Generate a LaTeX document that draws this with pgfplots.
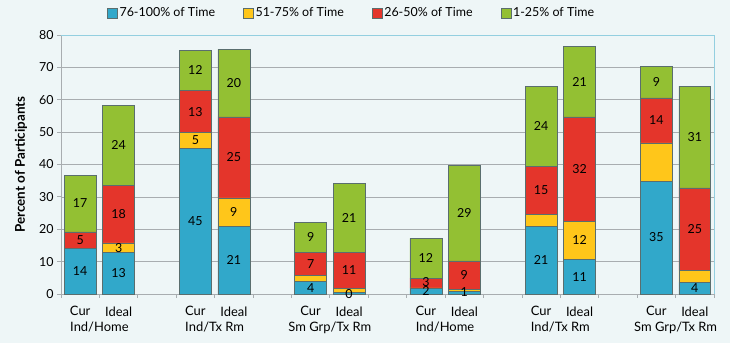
\documentclass[border=0pt]{standalone}
\usepackage{pgfplots}
\pgfplotsset{compat=1.18}
\usepackage{fontspec}
\setmainfont{Lato}
\definecolor{bgc}{HTML}{EEF6F7}
\definecolor{bF}{HTML}{31A8CA}
\definecolor{yF}{HTML}{FFC61A}
\definecolor{rF}{HTML}{E4352B}
\definecolor{gF}{HTML}{93C033}
\definecolor{edge}{HTML}{5A6E6E}
\definecolor{gridc}{HTML}{A8ADB0}
\definecolor{frame}{HTML}{93CFE0}
\begin{document}
\begin{tikzpicture}
\path[use as bounding box, fill=bgc] (0,0) rectangle (730bp,343bp);
\pgfplotsset{geom/.style={
  scale only axis, width=653bp, height=259bp,
  at={(61bp,49bp)}, anchor=south west,
  xmin=-0.5, xmax=16.5, ymin=0, ymax=80}}
\begin{axis}[geom,
  ybar stacked, bar width=0.83,
  axis x line*=bottom, axis y line*=left,
  axis line style={draw=gridc, line width=0.8pt},
  ytick={0,10,...,80},
  ymajorgrids, grid style={draw=gridc, line width=0.7pt},
  xtick={-0.5,0.5,...,16.5},
  xticklabels={{},{\mbox{}\\[7bp]Ind/Home},{},{},{\mbox{}\\[7bp]Ind/Tx Rm},{},{},{\mbox{}\\[7bp]Sm Grp/Tx Rm},{},{},{\mbox{}\\[7bp]Ind/Home},{},{},{\mbox{}\\[7bp]Ind/Tx Rm},{},{},{\mbox{}\\[7bp]Sm Grp/Tx Rm},{}},
  xticklabel style={align=center, font=\fontsize{13}{14}\selectfont, yshift=-9bp},
  extra x ticks={0,1,3,4,6,7,9,10,12,13,15,16},
  extra x tick labels={Cur,Ideal,Cur,Ideal,Cur,Ideal,Cur,Ideal,Cur,Ideal,Cur,Ideal},
  extra x tick style={major tick length=0pt, grid=none},
  tick align=outside, major tick length=4bp,
  tick style={draw=gridc, line width=0.8pt},
  yticklabel style={font=\fontsize{12.5}{14}\selectfont},
  /pgf/number format/assume math mode=true,
  ylabel={\bfseries Percent of Participants},
  ylabel style={font=\fontsize{13.5}{15}\selectfont, yshift=5bp},
  legend style={at={(0.445,1.085)}, anchor=center, draw=none, fill=none,
    legend columns=4, font=\fontsize{12.5}{14}\selectfont,
    /tikz/every even column/.append style={column sep=26bp}},
  legend image code/.code={\draw[#1] (0bp,-5bp) rectangle (10bp,5bp);},
  clip=false,
  extra description/.code={\draw[frame, line width=0.8pt] (rel axis cs:0,1) -- (rel axis cs:1,1) -- (rel axis cs:1,0);},
  every axis plot/.append style={draw=edge, line width=0.5pt},
]
\addplot[fill=bF] coordinates {
(0,14) (1,12.9) (3,45) (4,20.8) (6,3.8) (7,0.4) (9,1.8) (10,0.9) (12,20.8) (13,10.7) (15,34.9) (16,3.6)};
\addplot[fill=yF] coordinates {
(0,0) (1,2.9) (3,4.9) (4,8.9) (6,1.9) (7,1.4) (9,0.1) (10,0.5) (12,3.9) (13,11.8) (15,11.8) (16,3.8)};
\addplot[fill=rF] coordinates {
(0,5.2) (1,17.8) (3,12.9) (4,25) (6,7.1) (7,11) (9,3) (10,8.8) (12,14.8) (13,32.2) (15,13.9) (16,25.4)};
\addplot[fill=gF] coordinates {
(0,17.5) (1,24.7) (3,12.5) (4,20.9) (6,9.4) (7,21.4) (9,12.3) (10,29.6) (12,24.7) (13,21.8) (15,9.8) (16,31.4)};
\legend{76-100\% of Time,51-75\% of Time,26-50\% of Time,1-25\% of Time}
\end{axis}
\begin{axis}[geom, hide axis, clip=false]
\addplot[draw=none, nodes near coords, point meta=explicit symbolic,
  every node near coord/.append style={anchor=center, font=\fontsize{12.5}{14}\selectfont, text=black, inner sep=0pt}]
coordinates {
(0,7) [14] (0,16.6) [5] (0,27.95) [17]
(1,6.45) [13] (1,14.35) [3] (1,24.7) [18] (1,45.95) [24]
(3,22.5) [45] (3,47.45) [5] (3,56.35) [13] (3,69.05) [12]
(4,10.4) [21] (4,25.25) [9] (4,42.2) [25] (4,65.15) [20]
(6,1.9) [4] (6,9.25) [7] (6,17.5) [9]
(7,0.1) [0] (7,7.3) [11] (7,23.5) [21]
(9,0.8) [2] (9,3.6) [3] (9,11.05) [12]
(10,0.6) [1] (10,5.8) [9] (10,25) [29]
(12,10.4) [21] (12,32.1) [15] (12,51.85) [24]
(13,5.35) [11] (13,16.6) [12] (13,38.6) [32] (13,65.6) [21]
(15,17.45) [35] (15,53.65) [14] (15,65.5) [9]
(16,1.8) [4] (16,20.1) [25] (16,48.5) [31]
};
\end{axis}
\end{tikzpicture}
\end{document}
